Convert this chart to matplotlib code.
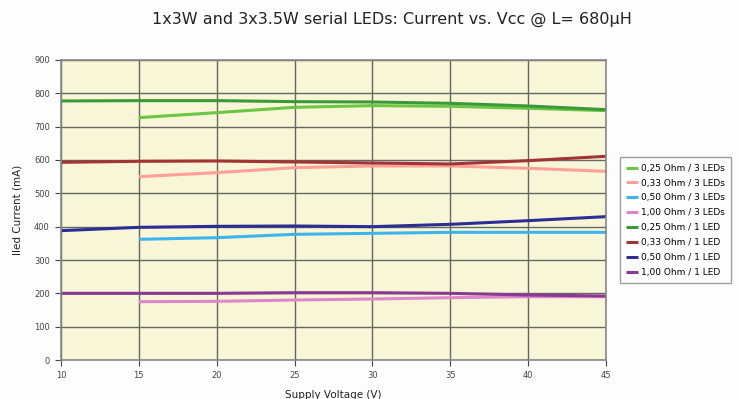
import numpy as np
import matplotlib
matplotlib.use("Agg")
import matplotlib.pyplot as plt

# supply voltage (V)
volt_1led = [10, 15, 20, 25, 30, 35, 40, 45]
volt_3led = [15, 20, 25, 30, 35, 40, 45]

# led current (mA)
i_025_3 = [727, 742, 758, 763, 761, 755, 748]
i_033_3 = [550, 562, 577, 582, 582, 575, 566]
i_050_3 = [362, 367, 377, 380, 383, 383, 383]
i_100_3 = [175, 176, 180, 183, 187, 190, 190]
i_025_1 = [777, 778, 778, 775, 774, 770, 762, 751]
i_033_1 = [593, 596, 597, 594, 591, 588, 598, 611]
i_050_1 = [388, 398, 401, 402, 400, 407, 418, 430]
i_100_1 = [200, 200, 200, 202, 202, 200, 195, 192]

labels = ["0,25 Ohm / 3 LEDs", "0,33 Ohm / 3 LEDs", "0,50 Ohm / 3 LEDs", "1,00 Ohm / 3 LEDs",
          "0,25 Ohm / 1 LED", "0,33 Ohm / 1 LED", "0,50 Ohm / 1 LED", "1,00 Ohm / 1 LED"]
colors = ["#6cc644", "#ff9f9a", "#3db4ee", "#dd88cc",
          "#3a9a3a", "#a33434", "#2d2d96", "#8a3a94"]

fig = plt.figure(figsize=(7.39, 3.99), dpi=100, facecolor="#fdfdfd")
ax = fig.add_axes([0.0825, 0.0977, 0.7375, 0.752])
ax.set_facecolor("#f8f6d6")

series = [i_025_3, i_033_3, i_050_3, i_100_3, i_025_1, i_033_1, i_050_1, i_100_1]
for k in range(8):
    xs = volt_3led if k < 4 else volt_1led
    ax.plot(xs, series[k], color=colors[k], lw=2.2, label=labels[k], solid_capstyle="butt")

ax.set_xlim(10, 45)
ax.set_ylim(0, 900)
ax.set_xticks(np.arange(10, 46, 5))
ax.set_yticks(np.arange(0, 901, 100))
ax.grid(True, color="#666666", lw=1.0)
ax.set_axisbelow(True)
for s in ax.spines.values():
    s.set_color("#888888")
    s.set_linewidth(1.2)
ax.tick_params(labelsize=6, colors="#444444", length=4, direction="out", pad=4)

ax.set_xlabel("Supply Voltage (V)", fontsize=7.5, labelpad=7, color="#222222")
ax.set_ylabel("Iled Current (mA)", fontsize=7.5, labelpad=8, color="#222222")
fig.text(0.531, 0.952, "1x3W and 3x3.5W serial LEDs: Current vs. Vcc @ L= 680\u00b5H",
         ha="center", va="center", fontsize=11.5, color="#222222")

leg = ax.legend(loc="center left", bbox_to_anchor=(0.833, 0.448), bbox_transform=fig.transFigure,
                fontsize=6.5, frameon=True, fancybox=False, edgecolor="#888888",
                handlelength=1.3, handletextpad=0.3, labelspacing=0.65, borderpad=0.7)
leg.get_frame().set_linewidth(1.0)

fig.savefig("out.png", dpi=100, facecolor=fig.get_facecolor())
